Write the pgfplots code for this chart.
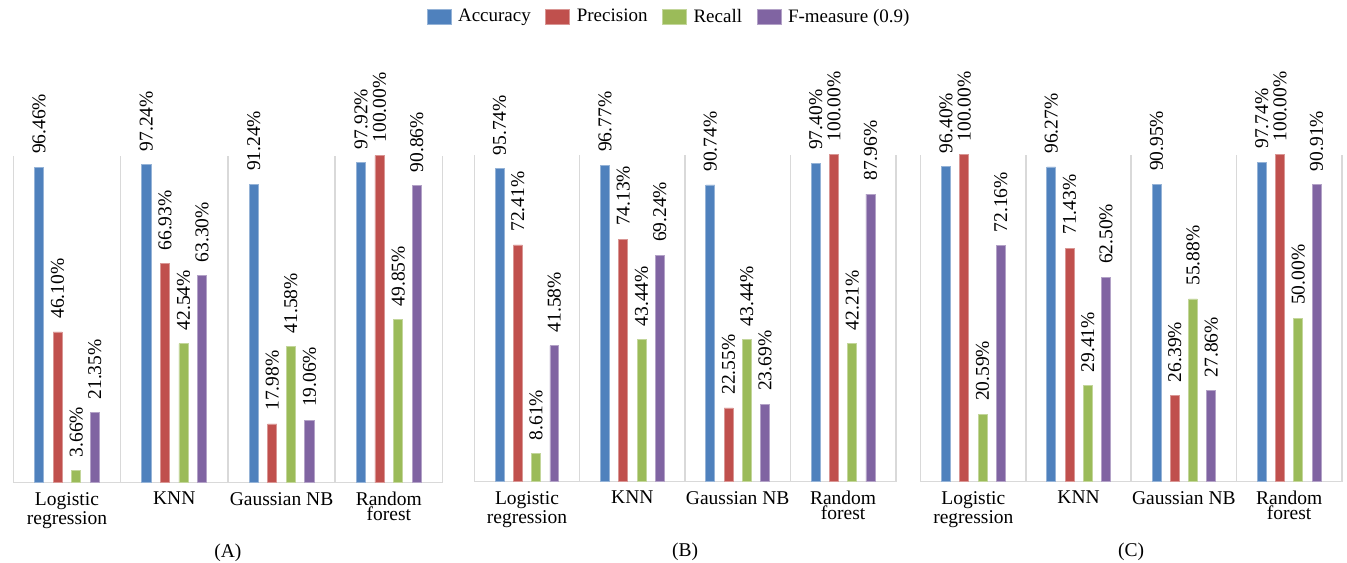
\documentclass[border=0pt]{standalone}
\usepackage{fontspec}
\setmainfont{Liberation Serif}
\usepackage{pgfplots}
\usepackage{pgfplotstable}
\pgfplotsset{compat=1.18}

\definecolor{cAcc}{HTML}{4F81BD}
\definecolor{cPre}{HTML}{C0504D}
\definecolor{cRec}{HTML}{9BBB59}
\definecolor{cFm}{HTML}{8064A2}
\definecolor{gridgray}{HTML}{D9D9D9}

% x: 1 = Logistic regression, 2 = KNN, 3 = Gaussian NB, 4 = Random forest
\pgfplotstableread{
x acc prec rec fm
1 96.46 46.10 3.66 21.35
2 97.24 66.93 42.54 63.30
3 91.24 17.98 41.58 19.06
4 97.92 100.00 49.85 90.86
}\dataA
\pgfplotstableread{
x acc prec rec fm
1 95.74 72.41 8.61 41.58
2 96.77 74.13 43.44 69.24
3 90.74 22.55 43.44 23.69
4 97.40 100.00 42.21 87.96
}\dataB
\pgfplotstableread{
x acc prec rec fm
1 96.40 100.00 20.59 72.16
2 96.27 71.43 29.41 62.50
3 90.95 26.39 55.88 27.86
4 97.74 100.00 50.00 90.91
}\dataC

\pgfplotsset{
  panel/.style={
    ybar, anchor=south west,
    y=1.635pt, xmin=0.5, xmax=4.5, ymin=0, ymax=100,
    enlargelimits=false, clip=false,
    axis line style={draw=none},
    major tick length=0pt, minor tick length=0pt,
    xtick={1,2,3,4},
    xticklabels={{Logistic\\regression},KNN,{Gaussian NB},{Random\\forest}},
    minor xtick={0.5,1.5,2.5,3.5,4.5}, xminorgrids=true,
    ytick={0}, yticklabels={}, ymajorgrids=true,
    grid style={gridgray, line width=0.75pt},
    minor grid style={gridgray, line width=0.75pt},
    xticklabel style={align=center, font=\fontsize{9.75}{7.2}\selectfont,
      inner sep=0pt, yshift=-4.5pt},
    bar width=0.085,
    nodes near coords={\pgfmathprintnumber[fixed,fixed zerofill,precision=2]{\pgfplotspointmeta}\%},
    nodes near coords style={rotate=90, anchor=west, inner xsep=6.5pt,
      inner ysep=0pt, font=\fontsize{9.75}{11}\selectfont, text=black},
    /pgf/number format/assume math mode=true,
    xlabel style={at={(axis description cs:0.5,-0.2146)}, anchor=center,
      font=\fontsize{9.75}{11}\selectfont},
    legend image code/.code={\fill[##1] (0pt,-3.75pt) rectangle (12pt,3.75pt);},
  },
  sAcc/.style={fill=cAcc, draw=cAcc!60!white, line width=0.4pt, bar shift=-0.26},
  sPre/.style={fill=cPre, draw=cPre!60!white, line width=0.4pt, bar shift=-0.0867},
  sRec/.style={fill=cRec, draw=cRec!60!white, line width=0.4pt, bar shift=0.0867},
  sFm/.style={fill=cFm, draw=cFm!60!white, line width=0.4pt, bar shift=0.26},
}

\begin{document}
\begin{tikzpicture}
\useasboundingbox (0pt,0pt) rectangle (673.5pt,-281pt);

% (A)
\begin{axis}[panel, at={(6.65pt,-241.35pt)}, x=53.65pt, xlabel={(A)}]
  \addplot[sAcc] table[x=x, y=acc] {\dataA};
  \addplot[sPre] table[x=x, y=prec] {\dataA};
  \addplot[sRec] table[x=x, y=rec] {\dataA};
  \addplot[sFm] table[x=x, y=fm] {\dataA};
\end{axis}

% (B), carries the shared legend
\begin{axis}[panel, at={(237.15pt,-240.85pt)}, x=52.68pt, xlabel={(B)},
  legend columns=4,
  legend style={at={(axis description cs:0.4644,1.421)}, anchor=center,
    draw=none, fill=none, font=\fontsize{9.5}{11}\selectfont,
    /tikz/every odd column/.append style={column sep=1.3pt},
    /tikz/every even column/.append style={column sep=5.3pt}}]
  \addplot[sAcc] table[x=x, y=acc] {\dataB};
  \addplot[sPre] table[x=x, y=prec] {\dataB};
  \addplot[sRec] table[x=x, y=rec] {\dataB};
  \addplot[sFm] table[x=x, y=fm] {\dataB};
  \legend{Accuracy, Precision, Recall, F-measure (0.9)}
\end{axis}

% (C)
\begin{axis}[panel, at={(460.35pt,-240.85pt)}, x=52.63pt, xlabel={(C)}]
  \addplot[sAcc] table[x=x, y=acc] {\dataC};
  \addplot[sPre] table[x=x, y=prec] {\dataC};
  \addplot[sRec] table[x=x, y=rec] {\dataC};
  \addplot[sFm] table[x=x, y=fm] {\dataC};
\end{axis}
\end{tikzpicture}
\end{document}
